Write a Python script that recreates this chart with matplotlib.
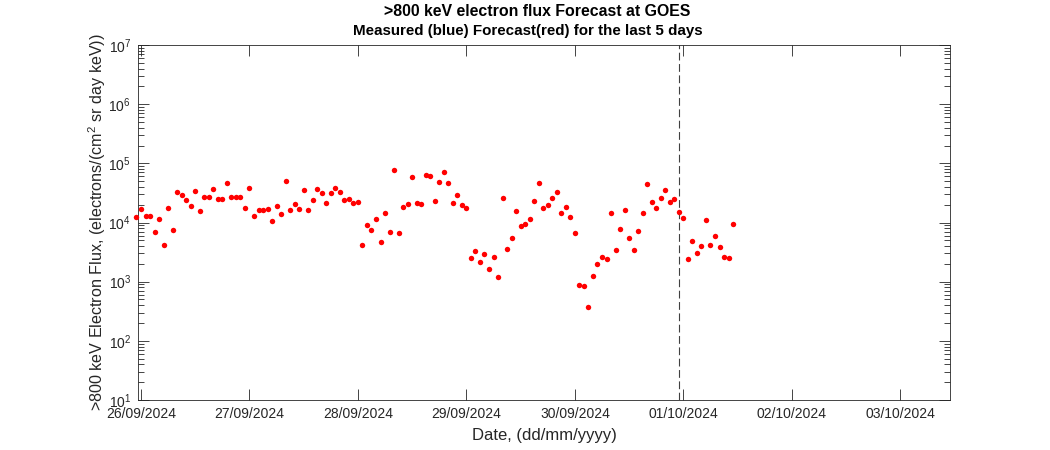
import datetime as dt
import numpy as np
import matplotlib
matplotlib.use("Agg")
import matplotlib.pyplot as plt
from matplotlib.ticker import LogLocator, NullFormatter

plt.rcParams['font.family'] = ['Liberation Sans', 'DejaVu Sans']
plt.rcParams['mathtext.fontset'] = 'custom'
plt.rcParams['mathtext.rm'] = 'Liberation Sans'
plt.rcParams['mathtext.it'] = 'Liberation Sans'

# Forecast flux, hourly, starting 25/09/2024 23:00
start_time = dt.datetime(2024, 9, 25, 23, 0)
forecast_flux = [
    12480, 16830, 12980, 12980, 6970, 11540, 4150, 17500, 7530, 33000,
    29370, 23610, 19150, 33500, 15590, 26850, 26850, 36230, 24850, 24850,
    46300, 26850, 26850, 26850, 17710, 38100, 12900, 16000, 16000, 16640,
    10560, 19150, 14030, 49430, 16190, 20230, 16830, 34860, 16190, 23900,
    36650, 31770, 21280, 31030, 38560, 33000, 24180, 25140, 21280, 21860,
    4200, 9040, 7360, 11410, 4610, 14420, 6890, 77660, 6550, 18420,
    20460, 59160, 21030, 20460, 63950, 61500, 22720, 48700, 71800, 46300,
    21280, 29030, 19450, 17300, 2505, 3325, 2143, 2892, 1614, 2604,
    1210, 25830, 3594, 5450, 15590, 8790, 9290, 11540, 23270, 46870,
    17500, 19680, 25530, 32240, 14420, 18200, 12190, 6620, 877, 843,
    368, 1259, 1983, 2604, 2437, 14250, 3420, 7830, 16400, 5450,
    3458, 7240, 14250, 44010, 21860, 17500, 26140, 35250, 22110, 25140,
    15170, 12000, 2382, 4910, 3006, 4040, 10990, 4100, 5960, 3890,
    2604, 2535, 9400,
]
now_time = dt.datetime(2024, 9, 30, 23, 0)
tick_dates = [dt.datetime(2024, 9, 26) + dt.timedelta(days=i) for i in range(8)]
tick_labels = [d.strftime('%d/%m/%Y') for d in tick_dates]
title_line1 = '>800 keV electron flux Forecast at GOES'
title_line2 = 'Measured (blue) Forecast(red) for the last 5 days'

times = [start_time + dt.timedelta(hours=i) for i in range(len(forecast_flux))]

fig = plt.figure(figsize=(10.5, 4.5), dpi=100)
ax = fig.add_axes([138 / 1050, 50 / 450, (950 - 138) / 1050, (400 - 45) / 450])

ax.plot(times, forecast_flux, linestyle='none', marker='o', color='#ff0000',
        markersize=3.9, markeredgewidth=0, clip_on=False, zorder=3)
ax.axvline(now_time, color='#404040', linestyle=(0, (7, 3.2)), linewidth=0.8, zorder=2)

ax.set_yscale('log')
ax.set_ylim(10, 1e7)
ax.set_xlim(now_time - dt.timedelta(days=4.986), now_time + dt.timedelta(days=2.5))
ax.yaxis.set_major_locator(LogLocator(base=10, numticks=10))
ax.yaxis.set_minor_locator(LogLocator(base=10, subs=np.arange(2, 10), numticks=20))
ax.yaxis.set_minor_formatter(NullFormatter())

ax.set_xticks(tick_dates)
ax.set_xticklabels(tick_labels)

for s in ax.spines.values():
    s.set_linewidth(0.6)
    s.set_color('#262626')
ax.tick_params(which='both', direction='in', top=True, right=True,
               width=0.6, color='#262626', labelcolor='#262626', labelsize=10)
ax.tick_params(which='major', length=8)
ax.tick_params(which='minor', length=4.5)
ax.tick_params(axis='x', pad=5)
ax.tick_params(axis='y', pad=5)

ax.set_xlabel('Date, (dd/mm/yyyy)', fontsize=12, color='#262626', labelpad=5)
ax.set_ylabel('>800 keV Electron Flux, (electrons/(cm$^{2}$ sr day keV))',
              fontsize=11.6, color='#262626', labelpad=0)

fig.text(537 / 1050, 1 - 12 / 450, title_line1, ha='center', va='center',
         fontsize=11.4, fontweight='bold')
fig.text(528 / 1050, 1 - 31 / 450, title_line2, ha='center', va='center',
         fontsize=10.9, fontweight='bold')

fig.savefig('out.png', dpi=100)
